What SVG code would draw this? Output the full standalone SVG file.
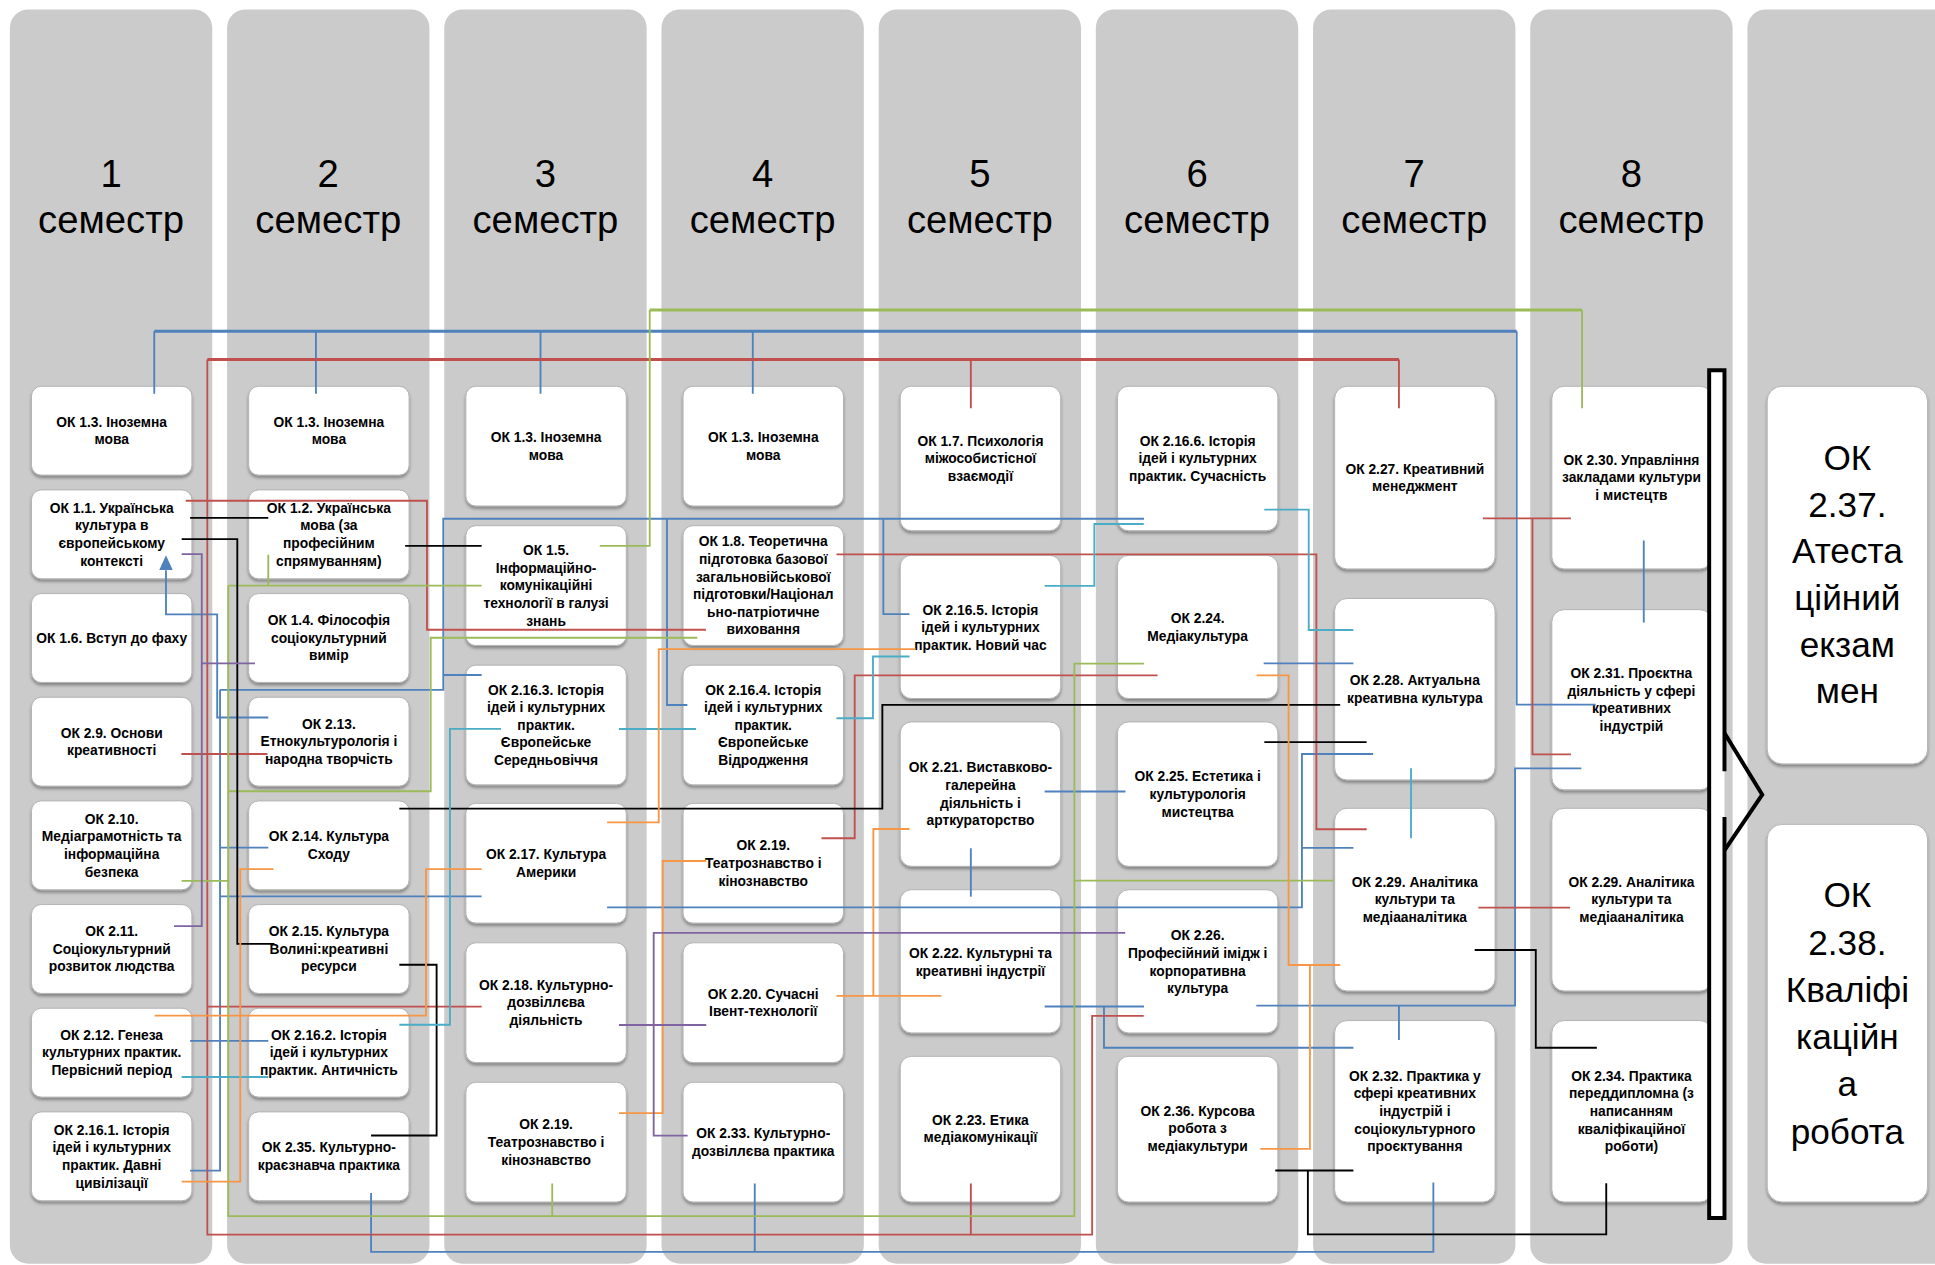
<svg xmlns="http://www.w3.org/2000/svg" width="1935" height="1265" viewBox="0 0 1935 1265">
<defs>
<style>
.col{fill:#cbcbcb}
.box{fill:#fff;stroke:#b3b3b3;stroke-width:0.8;filter:url(#sh)}
.t{font-family:"Liberation Sans",Arial,sans-serif;font-weight:bold;font-size:11.2px;text-anchor:middle;fill:#000}
.h{font-family:"Liberation Sans",Arial,sans-serif;font-size:31px;text-anchor:middle;fill:#000}
.big{font-family:"Liberation Sans",Arial,sans-serif;font-size:28.5px;text-anchor:middle;fill:#000}
.c{fill:none;stroke-width:1.5}
.bus{fill:none;stroke-width:2.4}
.b{stroke:#4f81bd}.r{stroke:#c0504d}.g{stroke:#9bbb59}.o{stroke:#f79646}.p{stroke:#8064a2}.cy{stroke:#4bacc6}.k{stroke:#000}
</style>
<filter id="sh" x="-10%" y="-10%" width="120%" height="130%">
<feDropShadow dx="0" dy="2" stdDeviation="1.4" flood-color="#000" flood-opacity="0.35"/>
</filter>
<marker id="ah" markerUnits="userSpaceOnUse" markerWidth="12" markerHeight="11" viewBox="0 0 12 11" refX="0" refY="5.5" orient="auto-start-reverse">
<path d="M0,0 L12,5.5 L0,11 z" fill="#4f81bd"/>
</marker>
</defs>
<rect width="1935" height="1265" fill="#fff"/>
<g transform="scale(1.23406)">
<g id="columns">
<rect class="col" x="8" y="7.6" width="164" height="1016.4" rx="15"/>
<rect class="col" x="184" y="7.6" width="164" height="1016.4" rx="15"/>
<rect class="col" x="360" y="7.6" width="164" height="1016.4" rx="15"/>
<rect class="col" x="536" y="7.6" width="164" height="1016.4" rx="15"/>
<rect class="col" x="712" y="7.6" width="164" height="1016.4" rx="15"/>
<rect class="col" x="888" y="7.6" width="164" height="1016.4" rx="15"/>
<rect class="col" x="1064" y="7.6" width="164" height="1016.4" rx="15"/>
<rect class="col" x="1240" y="7.6" width="164" height="1016.4" rx="15"/>
<rect class="col" x="1416" y="7.6" width="200" height="1016.4" rx="15"/>
</g>
<g id="headers">
<text class="h" x="90" y="151.3">1</text><text class="h" x="90" y="189">семестр</text>
<text class="h" x="266" y="151.3">2</text><text class="h" x="266" y="189">семестр</text>
<text class="h" x="442" y="151.3">3</text><text class="h" x="442" y="189">семестр</text>
<text class="h" x="618" y="151.3">4</text><text class="h" x="618" y="189">семестр</text>
<text class="h" x="794" y="151.3">5</text><text class="h" x="794" y="189">семестр</text>
<text class="h" x="970" y="151.3">6</text><text class="h" x="970" y="189">семестр</text>
<text class="h" x="1146" y="151.3">7</text><text class="h" x="1146" y="189">семестр</text>
<text class="h" x="1322" y="151.3">8</text><text class="h" x="1322" y="189">семестр</text>
</g>

<!-- Semester 1 -->
<g id="s1-ok13"><rect class="box" x="25.5" y="313" width="130" height="72" rx="8"/><text class="t" x="90.5" y="345.75"><tspan x="90.5">ОК 1.3. Іноземна</tspan><tspan x="90.5" dy="14.3">мова</tspan></text></g>
<g id="s1-ok11"><rect class="box" x="25.5" y="397" width="130" height="72" rx="8"/><text class="t" x="90.5" y="415.45"><tspan x="90.5">ОК 1.1. Українська</tspan><tspan x="90.5" dy="14.3">культура в</tspan><tspan x="90.5" dy="14.3">європейському</tspan><tspan x="90.5" dy="14.3">контексті</tspan></text></g>
<g id="s1-ok16"><rect class="box" x="25.5" y="481" width="130" height="72" rx="8"/><text class="t" x="90.5" y="520.9">ОК 1.6. Вступ до фаху</text></g>
<g id="s1-ok29"><rect class="box" x="25.5" y="565" width="130" height="72" rx="8"/><text class="t" x="90.5" y="597.75"><tspan x="90.5">ОК 2.9. Основи</tspan><tspan x="90.5" dy="14.3">креативності</tspan></text></g>
<g id="s1-ok210"><rect class="box" x="25.5" y="649" width="130" height="72" rx="8"/><text class="t" x="90.5" y="667.45"><tspan x="90.5">ОК 2.10.</tspan><tspan x="90.5" dy="14.3">Медіаграмотність та</tspan><tspan x="90.5" dy="14.3">інформаційна</tspan><tspan x="90.5" dy="14.3">безпека</tspan></text></g>
<g id="s1-ok211"><rect class="box" x="25.5" y="733" width="130" height="72" rx="8"/><text class="t" x="90.5" y="758.6"><tspan x="90.5">ОК 2.11.</tspan><tspan x="90.5" dy="14.3">Соціокультурний</tspan><tspan x="90.5" dy="14.3">розвиток людства</tspan></text></g>
<g id="s1-ok212"><rect class="box" x="25.5" y="817" width="130" height="72" rx="8"/><text class="t" x="90.5" y="842.6"><tspan x="90.5">ОК 2.12. Генеза</tspan><tspan x="90.5" dy="14.3">культурних практик.</tspan><tspan x="90.5" dy="14.3">Первісний період</tspan></text></g>
<g id="s1-ok2161"><rect class="box" x="25.5" y="901" width="130" height="72" rx="8"/><text class="t" x="90.5" y="919.45"><tspan x="90.5">ОК 2.16.1. Історія</tspan><tspan x="90.5" dy="14.3">ідей і культурних</tspan><tspan x="90.5" dy="14.3">практик. Давні</tspan><tspan x="90.5" dy="14.3">цивілізації</tspan></text></g>

<!-- Semester 2 -->
<g id="s2-ok13"><rect class="box" x="201.5" y="313" width="130" height="72" rx="8"/><text class="t" x="266.5" y="345.75"><tspan x="266.5">ОК 1.3. Іноземна</tspan><tspan x="266.5" dy="14.3">мова</tspan></text></g>
<g id="s2-ok12"><rect class="box" x="201.5" y="397" width="130" height="72" rx="8"/><text class="t" x="266.5" y="415.45"><tspan x="266.5">ОК 1.2. Українська</tspan><tspan x="266.5" dy="14.3">мова (за</tspan><tspan x="266.5" dy="14.3">професійним</tspan><tspan x="266.5" dy="14.3">спрямуванням)</tspan></text></g>
<g id="s2-ok14"><rect class="box" x="201.5" y="481" width="130" height="72" rx="8"/><text class="t" x="266.5" y="506.6"><tspan x="266.5">ОК 1.4. Філософія</tspan><tspan x="266.5" dy="14.3">соціокультурний</tspan><tspan x="266.5" dy="14.3">вимір</tspan></text></g>
<g id="s2-ok213"><rect class="box" x="201.5" y="565" width="130" height="72" rx="8"/><text class="t" x="266.5" y="590.6"><tspan x="266.5">ОК 2.13.</tspan><tspan x="266.5" dy="14.3">Етнокультурологія і</tspan><tspan x="266.5" dy="14.3">народна творчість</tspan></text></g>
<g id="s2-ok214"><rect class="box" x="201.5" y="649" width="130" height="72" rx="8"/><text class="t" x="266.5" y="681.75"><tspan x="266.5">ОК 2.14. Культура</tspan><tspan x="266.5" dy="14.3">Сходу</tspan></text></g>
<g id="s2-ok215"><rect class="box" x="201.5" y="733" width="130" height="72" rx="8"/><text class="t" x="266.5" y="758.6"><tspan x="266.5">ОК 2.15. Культура</tspan><tspan x="266.5" dy="14.3">Волині:креативні</tspan><tspan x="266.5" dy="14.3">ресурси</tspan></text></g>
<g id="s2-ok2162"><rect class="box" x="201.5" y="817" width="130" height="72" rx="8"/><text class="t" x="266.5" y="842.6"><tspan x="266.5">ОК 2.16.2. Історія</tspan><tspan x="266.5" dy="14.3">ідей і культурних</tspan><tspan x="266.5" dy="14.3">практик. Античність</tspan></text></g>
<g id="s2-ok235"><rect class="box" x="201.5" y="901" width="130" height="72" rx="8"/><text class="t" x="266.5" y="933.75"><tspan x="266.5">ОК 2.35. Культурно-</tspan><tspan x="266.5" dy="14.3">краєзнавча практика</tspan></text></g>

<!-- Semester 3 -->
<g id="s3-ok13"><rect class="box" x="377.5" y="313" width="130" height="97" rx="8"/><text class="t" x="442.5" y="358.25"><tspan x="442.5">ОК 1.3. Іноземна</tspan><tspan x="442.5" dy="14.3">мова</tspan></text></g>
<g id="s3-ok15"><rect class="box" x="377.5" y="426" width="130" height="97" rx="8"/><text class="t" x="442.5" y="449.8"><tspan x="442.5">ОК 1.5.</tspan><tspan x="442.5" dy="14.3">Інформаційно-</tspan><tspan x="442.5" dy="14.3">комунікаційні</tspan><tspan x="442.5" dy="14.3">технології в галузі</tspan><tspan x="442.5" dy="14.3">знань</tspan></text></g>
<g id="s3-ok2163"><rect class="box" x="377.5" y="539" width="130" height="97" rx="8"/><text class="t" x="442.5" y="562.8"><tspan x="442.5">ОК 2.16.3. Історія</tspan><tspan x="442.5" dy="14.3">ідей і культурних</tspan><tspan x="442.5" dy="14.3">практик.</tspan><tspan x="442.5" dy="14.3">Європейське</tspan><tspan x="442.5" dy="14.3">Середньовіччя</tspan></text></g>
<g id="s3-ok217"><rect class="box" x="377.5" y="651" width="130" height="97" rx="8"/><text class="t" x="442.5" y="696.25"><tspan x="442.5">ОК 2.17. Культура</tspan><tspan x="442.5" dy="14.3">Америки</tspan></text></g>
<g id="s3-ok218"><rect class="box" x="377.5" y="764" width="130" height="97" rx="8"/><text class="t" x="442.5" y="802.1"><tspan x="442.5">ОК 2.18. Культурно-</tspan><tspan x="442.5" dy="14.3">дозвіллєва</tspan><tspan x="442.5" dy="14.3">діяльність</tspan></text></g>
<g id="s3-ok219"><rect class="box" x="377.5" y="877" width="130" height="97" rx="8"/><text class="t" x="442.5" y="915.1"><tspan x="442.5">ОК 2.19.</tspan><tspan x="442.5" dy="14.3">Театрознавство і</tspan><tspan x="442.5" dy="14.3">кінознавство</tspan></text></g>

<!-- Semester 4 -->
<g id="s4-ok13"><rect class="box" x="553.5" y="313" width="130" height="97" rx="8"/><text class="t" x="618.5" y="358.25"><tspan x="618.5">ОК 1.3. Іноземна</tspan><tspan x="618.5" dy="14.3">мова</tspan></text></g>
<g id="s4-ok18"><rect class="box" x="553.5" y="426" width="130" height="97" rx="8"/><text class="t" x="618.5" y="442.65"><tspan x="618.5">ОК 1.8. Теоретична</tspan><tspan x="618.5" dy="14.3">підготовка базової</tspan><tspan x="618.5" dy="14.3">загальновійськової</tspan><tspan x="618.5" dy="14.3">підготовки/Націонал</tspan><tspan x="618.5" dy="14.3">ьно-патріотичне</tspan><tspan x="618.5" dy="14.3">виховання</tspan></text></g>
<g id="s4-ok2164"><rect class="box" x="553.5" y="539" width="130" height="97" rx="8"/><text class="t" x="618.5" y="562.8"><tspan x="618.5">ОК 2.16.4. Історія</tspan><tspan x="618.5" dy="14.3">ідей і культурних</tspan><tspan x="618.5" dy="14.3">практик.</tspan><tspan x="618.5" dy="14.3">Європейське</tspan><tspan x="618.5" dy="14.3">Відродження</tspan></text></g>
<g id="s4-ok219"><rect class="box" x="553.5" y="651" width="130" height="97" rx="8"/><text class="t" x="618.5" y="689.1"><tspan x="618.5">ОК 2.19.</tspan><tspan x="618.5" dy="14.3">Театрознавство і</tspan><tspan x="618.5" dy="14.3">кінознавство</tspan></text></g>
<g id="s4-ok220"><rect class="box" x="553.5" y="764" width="130" height="97" rx="8"/><text class="t" x="618.5" y="809.25"><tspan x="618.5">ОК 2.20. Сучасні</tspan><tspan x="618.5" dy="14.3">Івент-технології</tspan></text></g>
<g id="s4-ok233"><rect class="box" x="553.5" y="877" width="130" height="97" rx="8"/><text class="t" x="618.5" y="922.25"><tspan x="618.5">ОК 2.33. Культурно-</tspan><tspan x="618.5" dy="14.3">дозвіллєва практика</tspan></text></g>

<!-- Semester 5 -->
<g id="s5-ok17"><rect class="box" x="729.5" y="313" width="130" height="117" rx="9"/><text class="t" x="794.5" y="361.1"><tspan x="794.5">ОК 1.7. Психологія</tspan><tspan x="794.5" dy="14.3">міжособистісної</tspan><tspan x="794.5" dy="14.3">взаємодії</tspan></text></g>
<g id="s5-ok2165"><rect class="box" x="729.5" y="450" width="130" height="116" rx="9"/><text class="t" x="794.5" y="498.1"><tspan x="794.5">ОК 2.16.5. Історія</tspan><tspan x="794.5" dy="14.3">ідей і культурних</tspan><tspan x="794.5" dy="14.3">практик. Новий час</tspan></text></g>
<g id="s5-ok221"><rect class="box" x="729.5" y="585" width="130" height="117" rx="9"/><text class="t" x="794.5" y="625.95"><tspan x="794.5">ОК 2.21. Виставково-</tspan><tspan x="794.5" dy="14.3">галерейна</tspan><tspan x="794.5" dy="14.3">діяльність і</tspan><tspan x="794.5" dy="14.3">арткураторство</tspan></text></g>
<g id="s5-ok222"><rect class="box" x="729.5" y="721" width="130" height="116" rx="9"/><text class="t" x="794.5" y="776.25"><tspan x="794.5">ОК 2.22. Культурні та</tspan><tspan x="794.5" dy="14.3">креативні індустрії</tspan></text></g>
<g id="s5-ok223"><rect class="box" x="729.5" y="856" width="130" height="118" rx="9"/><text class="t" x="794.5" y="911.25"><tspan x="794.5">ОК 2.23. Етика</tspan><tspan x="794.5" dy="14.3">медіакомунікації</tspan></text></g>

<!-- Semester 6 -->
<g id="s6-ok2166"><rect class="box" x="905.5" y="313" width="130" height="117" rx="9"/><text class="t" x="970.5" y="361.1"><tspan x="970.5">ОК 2.16.6. Історія</tspan><tspan x="970.5" dy="14.3">ідей і культурних</tspan><tspan x="970.5" dy="14.3">практик. Сучасність</tspan></text></g>
<g id="s6-ok224"><rect class="box" x="905.5" y="450" width="130" height="116" rx="9"/><text class="t" x="970.5" y="505.25"><tspan x="970.5">ОК 2.24.</tspan><tspan x="970.5" dy="14.3">Медіакультура</tspan></text></g>
<g id="s6-ok225"><rect class="box" x="905.5" y="585" width="130" height="117" rx="9"/><text class="t" x="970.5" y="633.1"><tspan x="970.5">ОК 2.25. Естетика і</tspan><tspan x="970.5" dy="14.3">культурологія</tspan><tspan x="970.5" dy="14.3">мистецтва</tspan></text></g>
<g id="s6-ok226"><rect class="box" x="905.5" y="721" width="130" height="116" rx="9"/><text class="t" x="970.5" y="761.95"><tspan x="970.5">ОК 2.26.</tspan><tspan x="970.5" dy="14.3">Професійний імідж і</tspan><tspan x="970.5" dy="14.3">корпоративна</tspan><tspan x="970.5" dy="14.3">культура</tspan></text></g>
<g id="s6-ok236"><rect class="box" x="905.5" y="856" width="130" height="118" rx="9"/><text class="t" x="970.5" y="904.1"><tspan x="970.5">ОК 2.36. Курсова</tspan><tspan x="970.5" dy="14.3">робота з</tspan><tspan x="970.5" dy="14.3">медіакультури</tspan></text></g>

<!-- Semester 7 -->
<g id="s7-ok227"><rect class="box" x="1081.5" y="313" width="130" height="148" rx="10"/><text class="t" x="1146.5" y="383.75"><tspan x="1146.5">ОК 2.27. Креативний</tspan><tspan x="1146.5" dy="14.3">менеджмент</tspan></text></g>
<g id="s7-ok228"><rect class="box" x="1081.5" y="485" width="130" height="147" rx="10"/><text class="t" x="1146.5" y="555.25"><tspan x="1146.5">ОК 2.28. Актуальна</tspan><tspan x="1146.5" dy="14.3">креативна культура</tspan></text></g>
<g id="s7-ok229"><rect class="box" x="1081.5" y="655" width="130" height="148" rx="10"/><text class="t" x="1146.5" y="718.6"><tspan x="1146.5">ОК 2.29. Аналітика</tspan><tspan x="1146.5" dy="14.3">культури та</tspan><tspan x="1146.5" dy="14.3">медіааналітика</tspan></text></g>
<g id="s7-ok232"><rect class="box" x="1081.5" y="827" width="130" height="147" rx="10"/><text class="t" x="1146.5" y="875.8"><tspan x="1146.5">ОК 2.32. Практика у</tspan><tspan x="1146.5" dy="14.3">сфері креативних</tspan><tspan x="1146.5" dy="14.3">індустрій і</tspan><tspan x="1146.5" dy="14.3">соціокультурного</tspan><tspan x="1146.5" dy="14.3">проєктування</tspan></text></g>

<!-- Semester 8 -->
<g id="s8-ok230"><rect class="box" x="1257.5" y="313" width="130" height="148" rx="10"/><text class="t" x="1322" y="376.6"><tspan x="1322">ОК 2.30. Управління</tspan><tspan x="1322" dy="14.3">закладами культури</tspan><tspan x="1322" dy="14.3">і мистецтв</tspan></text></g>
<g id="s8-ok231"><rect class="box" x="1257.5" y="494" width="130" height="146" rx="10"/><text class="t" x="1322" y="549.45"><tspan x="1322">ОК 2.31. Проєктна</tspan><tspan x="1322" dy="14.3">діяльність у сфері</tspan><tspan x="1322" dy="14.3">креативних</tspan><tspan x="1322" dy="14.3">індустрій</tspan></text></g>
<g id="s8-ok229"><rect class="box" x="1257.5" y="655" width="130" height="148" rx="10"/><text class="t" x="1322" y="718.6"><tspan x="1322">ОК 2.29. Аналітика</tspan><tspan x="1322" dy="14.3">культури та</tspan><tspan x="1322" dy="14.3">медіааналітика</tspan></text></g>
<g id="s8-ok234"><rect class="box" x="1257.5" y="827" width="130" height="147" rx="10"/><text class="t" x="1322" y="875.8"><tspan x="1322">ОК 2.34. Практика</tspan><tspan x="1322" dy="14.3">переддипломна (з</tspan><tspan x="1322" dy="14.3">написанням</tspan><tspan x="1322" dy="14.3">кваліфікаційної</tspan><tspan x="1322" dy="14.3">роботи)</tspan></text></g>

<!-- Final -->
<g id="ok237"><rect class="box" x="1432" y="313" width="130" height="306" rx="12"/><text class="big" x="1497" y="380.8"><tspan x="1497">ОК</tspan><tspan x="1497" dy="37.8">2.37.</tspan><tspan x="1497" dy="37.8">Атеста</tspan><tspan x="1497" dy="37.8">ційний</tspan><tspan x="1497" dy="37.8">екзам</tspan><tspan x="1497" dy="37.8">мен</tspan></text></g>
<g id="ok238"><rect class="box" x="1432" y="668" width="130" height="306" rx="12"/><text class="big" x="1497" y="735.2"><tspan x="1497">ОК</tspan><tspan x="1497" dy="38.3">2.38.</tspan><tspan x="1497" dy="38.3">Кваліфі</tspan><tspan x="1497" dy="38.3">каційн</tspan><tspan x="1497" dy="38.3">а</tspan><tspan x="1497" dy="38.3">робота</tspan></text></g>

<g id="connectors">
<!-- blue -->
<path class="bus b" d="M125,268.5 H1229"/>
<path class="c b" d="M125,268.5 V319 M256,268.5 V319 M438,268.5 V319 M610,268.5 V319 M1229,268.5 V571 H1293"/>
<path class="c b" d="M134.5,462 V497.8 H176 V581.4 H217.4" marker-start="url(#ah)"/>
<path class="c b" d="M154,948.6 H178.3 V559"/>
<path class="c b" d="M178.3,559 H359.2 V420.4 H927 M359.2,547 H390.3"/>
<path class="c b" d="M540.5,420.4 V571.3 H557 M715.8,420.4 V497.6 H737"/>
<path class="c b" d="M178.3,686.8 H217.4"/>
<path class="c b" d="M178.3,726.4 H390.3"/>
<path class="c b" d="M154,843.4 H217.4"/>
<path class="c b" d="M492,735.3 H1055 V611 H1112.7 M1055,687.1 H1096.7"/>
<path class="c b" d="M300.7,966.8 V1014.4 H1161.5 V958.3 M611.6,959 V1014.4"/>
<path class="c b" d="M846.5,641.4 H912"/>
<path class="c b" d="M786.7,687.4 V726.6"/>
<path class="c b" d="M846.5,815.6 H927 M894.6,815.6 V849 H1096.7"/>
<path class="c b" d="M1018,814.9 H1227.7 V622.6 H1281.4 M1133.6,814.9 V842.7"/>
<path class="c b" d="M1332,438 V504.5"/>
<path class="c b" d="M1024,537.6 H1096.7"/>
<!-- red -->
<path class="bus r" d="M168,291.3 H1133.6"/>
<path class="c r" d="M1133.6,291.3 V330.8 M786.7,291.3 V330.9"/>
<path class="c r" d="M926.8,823.2 H885 V1000.5 H168 V291.3 M786.7,959 V1000.5"/>
<path class="c r" d="M147,611 H216.7"/>
<path class="c r" d="M168,815.7 H390.3"/>
<path class="c r" d="M150.5,405.8 H346 V510.3 H572"/>
<path class="c r" d="M677.8,449.2 H1066.7 V672 H1107.5"/>
<path class="c r" d="M938,547.3 H692.6 V679.3 H665.7"/>
<path class="c r" d="M1201.6,420 H1273 M1241.8,420 V611.3 H1273"/>
<path class="c r" d="M1198,735.5 H1272.2"/>
<!-- green -->
<path class="bus g" d="M526.5,251.2 H1282"/>
<path class="c g" d="M486,442.4 H526.5 V251.2 M1282,251.2 V330.8"/>
<path class="c g" d="M217.4,449.5 V474.6 M185,474.6 H390.3 M185,474.6 V985.5 H870.6 V537.7 H927 M870.6,713.6 H1080.3 M147.2,713.8 H185 M447.5,959 V985.5 M185,641.2 H349 V516.8 H565"/>
<!-- black -->
<path class="c k" d="M154,419.6 H217.4"/>
<path class="c k" d="M147.2,436.9 H192.3 V764.9 H222.4"/>
<path class="c k" d="M328.3,442.4 H390.3"/>
<path class="c k" d="M323.6,655.3 H715 V571.2 H1086"/>
<path class="c k" d="M1024.5,601.4 H1107.4"/>
<path class="c k" d="M323.6,781.8 H353.8 V920.1 H300.7"/>
<path class="c k" d="M1195,769.8 H1244.5 V849 H1294"/>
<path class="c k" d="M1033.4,948.5 H1096.7 M1059.8,948.5 V1000.3 H1301.6 V958.9"/>
<!-- cyan -->
<path class="c cy" d="M926.8,424.6 H886.8 V474.8 H846.5"/>
<path class="c cy" d="M737,532 H707.4 V582 H677.8"/>
<path class="c cy" d="M501.6,590.7 H564"/>
<path class="c cy" d="M323.6,830.4 H364.6 V590.6 H406"/>
<path class="c cy" d="M147.2,872.7 H217.4"/>
<path class="c cy" d="M1024.5,413 H1060.5 V510.5 H1096.7"/>
<path class="c cy" d="M1143.4,622.6 V679.3"/>
<!-- orange -->
<path class="c o" d="M147.2,957.5 H194.7 V704.3 H221.6"/>
<path class="c o" d="M125.3,823 H345.2 V704.3 H390.3"/>
<path class="c o" d="M492,666.4 H533.8 V526 H742"/>
<path class="c o" d="M501.6,902 H537 V697.7 H572.3"/>
<path class="c o" d="M677.8,807 H762.8 M707.7,807 V671.8 H737"/>
<path class="c o" d="M1018.2,547.3 H1044.2 V782 H1086"/>
<path class="c o" d="M1021.3,931 H1061.5 V782"/>
<!-- purple -->
<path class="c p" d="M141,750.5 H163.5 V449 H147.2 M163.5,537.5 H206.6"/>
<path class="c p" d="M501.6,830.6 H572.3"/>
<path class="c p" d="M911.8,756 H529.7 V920.2 H557.2"/>
</g>

<g id="progress-arrow">
<rect x="1385" y="300" width="12.4" height="687" fill="#fff"/>
<path d="M1397.4,625 V300 H1385 V987 H1397.4 V662" fill="none" stroke="#000" stroke-width="3.2"/>
<path d="M1397.4,594 L1428,644 L1397.4,689" fill="none" stroke="#000" stroke-width="3.2"/>
</g>
</g>
</svg>
